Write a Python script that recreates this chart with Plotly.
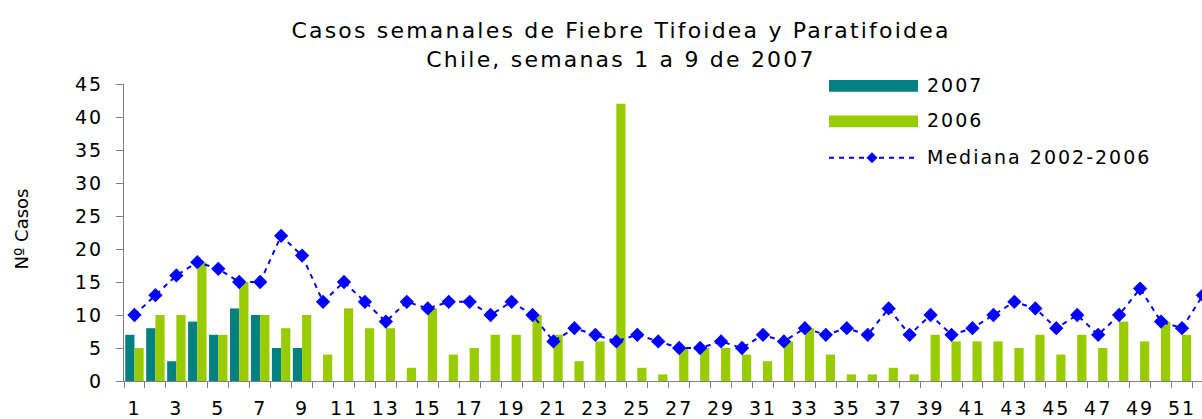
import plotly.graph_objects as go

# ---------------- data ----------------
weeks = list(range(1, 53))
weeks_2007 = [1, 2, 3, 4, 5, 6, 7, 8, 9]
cases_2007 = [7, 8, 3, 9, 7, 11, 10, 5, 5]
weeks_2006 = list(range(1, 52))
cases_2006 = [5, 10, 10, 18, 7, 15, 10, 8, 10,
              4, 11, 8, 8, 2, 11, 4, 5, 7, 7, 10, 7, 3, 6, 42, 2,
              1, 5, 5, 5, 4, 3, 6, 8, 4, 1, 1, 2, 1, 7, 6,
              6, 6, 5, 7, 4, 7, 5, 9, 6, 9, 7]
median_0206 = [10, 13, 16, 18, 17, 15, 15, 22, 19,
               12, 15, 12, 9, 12, 11, 12, 12, 10, 12, 10, 6, 8, 7, 6, 7,
               6, 5, 5, 6, 5, 7, 6, 8, 7, 8, 7, 11, 7, 10, 7,
               8, 10, 12, 11, 8, 10, 7, 10, 14, 9, 8, 13]
x_tick_weeks = list(range(1, 53, 2))
y_ticks = [0, 5, 10, 15, 20, 25, 30, 35, 40, 45]
series_names = ["2007", "2006", "Mediana 2002-2006"]
title_lines = ["Casos semanales de Fiebre Tifoidea y Paratifoidea",
               "Chile, semanas 1 a 9 de 2007"]
y_title = "Nº Casos"

# ---------------- style ----------------
C07 = "#008080"
C06 = "#99CC00"
CMED = "#0000FF"
AXC = "#808080"
FONT = "DejaVu Sans"


def sp(t, ls=2):
    return f'<span style="letter-spacing:{ls}px">{t}</span>'


fig = go.Figure()
fig.add_trace(go.Bar(x=weeks_2007, y=cases_2007, name=series_names[0],
                     marker=dict(color=C07, line=dict(width=0))))
fig.add_trace(go.Bar(x=weeks_2006, y=cases_2006, name=series_names[1],
                     marker=dict(color=C06, line=dict(width=0))))
fig.add_trace(go.Scatter(x=weeks, y=median_0206, name=series_names[2],
                         mode="lines+markers",
                         line=dict(color=CMED, width=2, dash="5px,5px"),
                         marker=dict(symbol="diamond", size=11, color=CMED)))

W, H = 1202, 419
L, R, T, B = 124, 0, 84, 33
pw, ph = W - L - R, H - T - B
px_per_week = 20.95


def px2x(p):
    return (p - L) / pw


def py2y(p):
    return (H - B - p) / ph


fig.update_layout(
    width=W, height=H,
    margin=dict(l=L, r=R, t=T, b=B, pad=0),
    paper_bgcolor="white", plot_bgcolor="white",
    font=dict(family=FONT, color="black", size=19),
    barmode="group", bargap=0.12, bargroupgap=0,
    showlegend=False,
    title=dict(text=sp(title_lines[0], 2.2) + "<br>" + sp(title_lines[1], 2.2),
               font=dict(family=FONT, size=22, color="black"),
               x=621 / W, xanchor="center", xref="container",
               y=1 - 38 / H, yanchor="middle", yref="container"),
)

fig.update_xaxes(
    range=[0.5, 0.5 + pw / px_per_week],
    tickmode="array", tickvals=x_tick_weeks,
    ticktext=[sp(str(v)) for v in x_tick_weeks],
    ticks="", showgrid=False, zeroline=False,
    showline=True, linecolor=AXC, linewidth=1,
    ticklabelstandoff=10,
    tickfont=dict(family=FONT, size=19, color="black"),
    minor=dict(tickvals=[w - 0.5 for w in weeks] + [weeks[-1] + 0.5],
               ticks="outside", ticklen=6, tickcolor=AXC, tickwidth=1,
               showgrid=False),
)
fig.update_yaxes(
    range=[0, 45], tickmode="array", tickvals=y_ticks,
    ticktext=[sp(str(v)) for v in y_ticks],
    ticks="outside", ticklen=7, tickcolor=AXC, tickwidth=1,
    showgrid=False, zeroline=False,
    showline=True, linecolor=AXC, linewidth=1,
    ticklabelstandoff=9,
    tickfont=dict(family=FONT, size=19, color="black"),
)

# y-axis title
fig.add_annotation(text=y_title, textangle=-90, xref="paper", yref="paper",
                   x=px2x(22), y=py2y(232), xanchor="center", yanchor="middle",
                   showarrow=False, font=dict(family=FONT, size=18, color="black"))

# custom legend (long swatches as in the original)
sx0, sx1 = px2x(829), px2x(918)
fig.add_shape(type="rect", xref="paper", yref="paper", x0=sx0, x1=sx1,
              y0=py2y(92), y1=py2y(80), fillcolor=C07, line=dict(width=0))
fig.add_shape(type="rect", xref="paper", yref="paper", x0=sx0, x1=sx1,
              y0=py2y(128), y1=py2y(116), fillcolor=C06, line=dict(width=0))
fig.add_shape(type="line", xref="paper", yref="paper", x0=sx0, x1=sx1,
              y0=py2y(159), y1=py2y(159),
              line=dict(color=CMED, width=2, dash="5px,5px"))
cx, cy, hw, hh = 872, 159, 5.5, 5.5
fig.add_shape(type="path", xref="paper", yref="paper",
              path=(f"M {px2x(cx - hw)} {py2y(cy)} L {px2x(cx)} {py2y(cy - hh)} "
                    f"L {px2x(cx + hw)} {py2y(cy)} L {px2x(cx)} {py2y(cy + hh)} Z"),
              fillcolor=CMED, line=dict(width=0))
for name, yc in zip(series_names, [85, 121, 158]):
    fig.add_annotation(text=sp(name), xref="paper", yref="paper",
                       x=px2x(925), y=py2y(yc), xanchor="left", yanchor="middle",
                       showarrow=False, font=dict(family=FONT, size=19, color="black"))

fig.write_html("out.html", config={"displayModeBar": False},
               post_script="document.body.style.margin='0';document.body.style.overflow='hidden';")
